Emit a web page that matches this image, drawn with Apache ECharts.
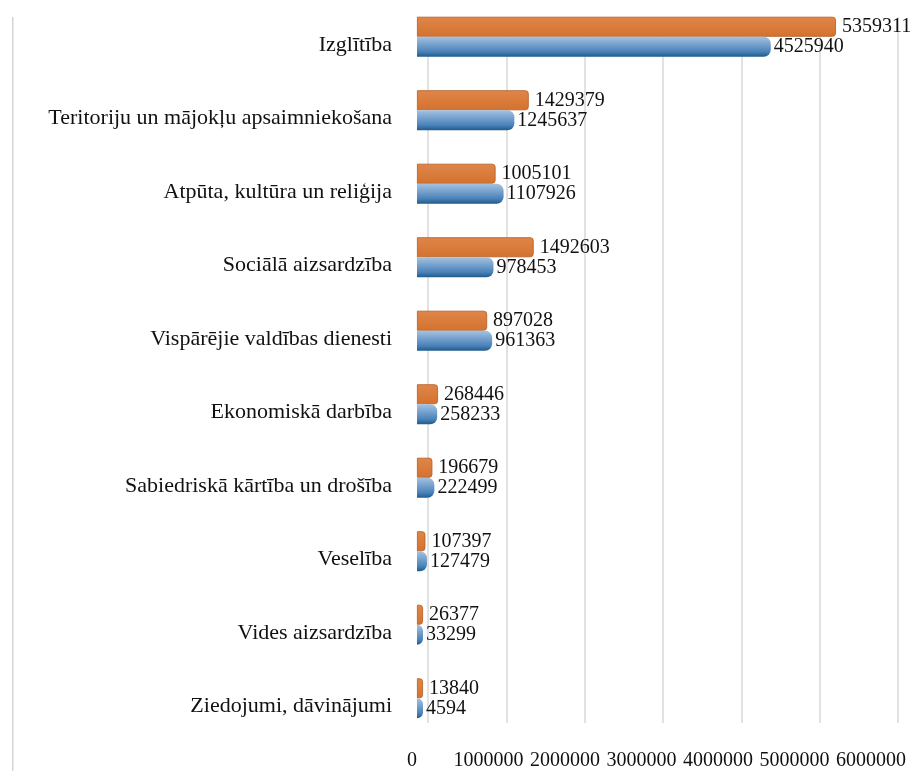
<!DOCTYPE html>
<html lang="lv">
<head>
    <meta charset="UTF-8">
    <title>Izdevumi</title>
    <style>
        html, body { margin: 0; padding: 0; background: #fff; }
        #chart { width: 919px; height: 771px; }
    </style>
</head>
<body>
<div id="chart"></div>
<script src="https://cdn.jsdelivr.net/npm/echarts@6/dist/echarts.min.js"></script>
<script>
    // kategorijas no augšas uz leju
    var categories = [
        'Izglītība',
        'Teritoriju un mājokļu apsaimniekošana',
        'Atpūta, kultūra un reliģija',
        'Sociālā aizsardzība',
        'Vispārējie valdības dienesti',
        'Ekonomiskā darbība',
        'Sabiedriskā kārtība un drošība',
        'Veselība',
        'Vides aizsardzība',
        'Ziedojumi, dāvinājumi'
    ];
    var orangeValues = [5359311, 1429379, 1005101, 1492603, 897028, 268446, 196679, 107397, 26377, 13840];
    var blueValues = [4525940, 1245637, 1107926, 978453, 961363, 258233, 222499, 127479, 33299, 4594];
    var xTicks = [0, 1000000, 2000000, 3000000, 4000000, 5000000, 6000000];

    var serif = '"Liberation Serif", "DejaVu Serif", serif';
    var myChart = echarts.init(document.getElementById('chart'));

    var xMin = xTicks[0], xMax = xTicks[xTicks.length - 1], xStep = xTicks[1] - xTicks[0];

    var option = {
        backgroundColor: '#fff',
        animation: false,
        textStyle: { fontFamily: serif },
        grid: [
            // priekšējā plakne ar stabiņiem
            { left: 417, top: 0, width: 469, height: 735 },
            // aizmugures siena ar režģa līnijām
            { left: 428, top: 17, width: 470, height: 706 },
            // grīdas priekšējā mala ar ass uzrakstiem
            { left: 412, top: 0, width: 459, height: 741 }
        ],
        xAxis: [
            {
                type: 'value', gridIndex: 0, min: xMin, max: xMax, interval: xStep,
                axisLine: { show: false }, axisTick: { show: false },
                splitLine: { show: false }, axisLabel: { show: false }
            },
            {
                type: 'value', gridIndex: 1, min: xMin, max: xMax, interval: xStep,
                axisLine: { show: false }, axisTick: { show: false },
                axisLabel: { show: false },
                splitLine: { show: true, lineStyle: { color: '#d9d9d9', width: 1.5 } }
            },
            {
                type: 'value', gridIndex: 2, min: xMin, max: xMax, interval: xStep,
                axisLine: { show: false }, axisTick: { show: false },
                splitLine: { show: false },
                axisLabel: {
                    margin: 12, color: '#111', fontSize: 20, fontFamily: serif,
                    formatter: function (v) { return String(v); }
                }
            }
        ],
        yAxis: [
            {
                type: 'category', gridIndex: 0, inverse: true,
                data: categories,
                axisLine: { show: false }, axisTick: { show: false },
                axisLabel: {
                    margin: 25, color: '#111', fontSize: 22, fontFamily: serif,
                    verticalAlign: 'top', lineHeight: 16
                }
            },
            { type: 'category', gridIndex: 1, inverse: true, data: categories, show: false },
            { type: 'category', gridIndex: 2, inverse: true, data: categories, show: false }
        ],
        graphic: [
            {
                type: 'rect', left: 12, top: 17,
                shape: { width: 1.5, height: 754 },
                style: { fill: '#d5d5d5' }, silent: true
            }
        ],
        series: [
            {
                name: 'sērija 1', type: 'bar',
                xAxisIndex: 0, yAxisIndex: 0,
                data: orangeValues,
                barWidth: 20, barGap: '0%', barMinHeight: 6,
                itemStyle: {
                    color: new echarts.graphic.LinearGradient(0, 0, 0, 1, [
                        { offset: 0, color: '#df8649' },
                        { offset: 1, color: '#d4722f' }
                    ]),
                    borderColor: '#b35a1f', borderWidth: 0.8,
                    borderRadius: [0, 3, 3, 0]
                },
                label: {
                    show: true, position: 'right', distance: 6,
                    color: '#111', fontSize: 20, fontFamily: serif
                }
            },
            {
                name: 'sērija 2', type: 'bar',
                xAxisIndex: 0, yAxisIndex: 0,
                data: blueValues,
                barWidth: 20, barGap: '0%', barMinHeight: 6,
                itemStyle: {
                    color: new echarts.graphic.LinearGradient(0, 0, 0, 1, [
                        { offset: 0, color: '#a3c2e1' },
                        { offset: 0.35, color: '#7aa4cf' },
                        { offset: 0.75, color: '#4a82b8' },
                        { offset: 1, color: '#1f5a8c' }
                    ]),
                    borderRadius: [0, 7, 7, 0]
                },
                label: {
                    show: true, position: 'right', distance: 3,
                    color: '#111', fontSize: 20, fontFamily: serif
                }
            }
        ]
    };

    myChart.setOption(option);
</script>
</body>
</html>
